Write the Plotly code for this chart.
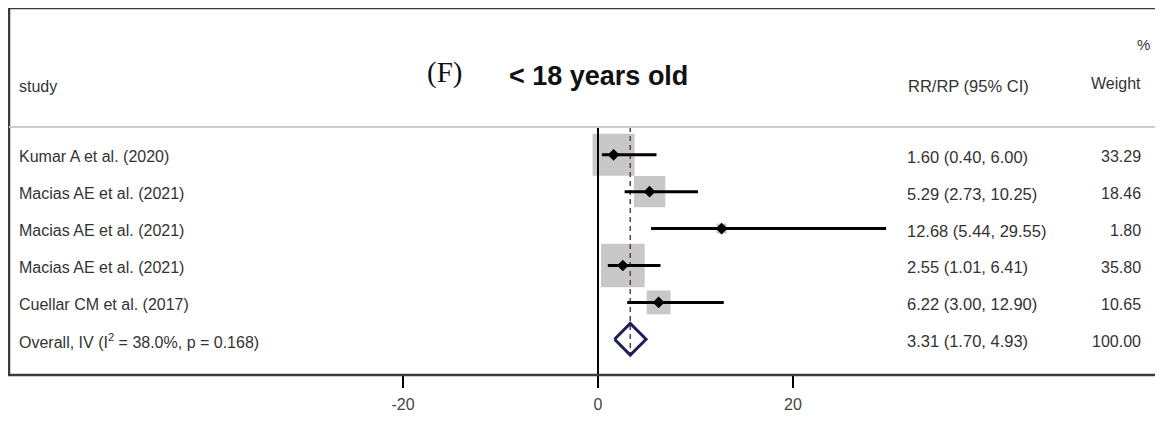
import numpy as np
import plotly.graph_objects as go

# ---------------- data ----------------
studies = ["Kumar A et al. (2020)", "Macias AE et al. (2021)", "Macias AE et al. (2021)",
           "Macias AE et al. (2021)", "Cuellar CM et al. (2017)"]
est = [1.60, 5.29, 12.68, 2.55, 6.22]
ci_lo = [0.40, 2.73, 5.44, 1.01, 3.00]
ci_hi = [6.00, 10.25, 29.55, 6.41, 12.90]
weights = [33.29, 18.46, 1.80, 35.80, 10.65]

overall_label = "Overall, IV (I<sup>2</sup> = 38.0%, p = 0.168)"
overall_est = 3.31
overall_lo = 1.70
overall_hi = 4.93
overall_weight = 100.00

xticks = [-20, 0, 20]

# ---------------- geometry / style ----------------
# the page body has an 8px margin, so the figure is sized to fit inside it
W, H = 1147, 405
ML, MT, MB, MR = 1, 0, 35, 0
PW = W - ML - MR
x_range = [-60.41, 57.13]
y_range = [5.968, -3.978]          # reversed: row 0 at top
header_sep_y = -0.752
TXT = "#333333"
FONT = "Liberation Sans, Arial, sans-serif"

def px_to_paper_x(px):
    # px is a page pixel position
    return (px - 9) / PW

rows = list(range(len(studies)))
overall_row = len(studies)

fig = go.Figure()

# weight boxes
fig.add_trace(go.Scatter(
    x=est, y=rows, mode="markers",
    marker=dict(symbol="square", size=[7.3 * np.sqrt(w) for w in weights],
                color="#b0b0b0", line=dict(width=0)),
    hoverinfo="skip", showlegend=False))

# zero line
fig.add_trace(go.Scatter(x=[0, 0], y=[header_sep_y, y_range[0]], mode="lines",
                         line=dict(color="black", width=2), hoverinfo="skip", showlegend=False))

# overall dashed line
fig.add_trace(go.Scatter(x=[overall_est, overall_est], y=[header_sep_y, overall_row + 0.43],
                         mode="lines", line=dict(color="#6a3a4a", width=1.5, dash="5px,4px"),
                         hoverinfo="skip", showlegend=False))

# CI lines
cx, cy = [], []
for r, a, b in zip(rows, ci_lo, ci_hi):
    cx += [a, b, None]
    cy += [r, r, None]
fig.add_trace(go.Scatter(x=cx, y=cy, mode="lines", line=dict(color="black", width=3),
                         hoverinfo="skip", showlegend=False))

# point estimates
fig.add_trace(go.Scatter(x=est, y=rows, mode="markers",
                         marker=dict(symbol="diamond", size=9, color="black"),
                         hoverinfo="skip", showlegend=False))

# overall diamond
dh = 0.43
fig.add_trace(go.Scatter(
    x=[overall_lo, overall_est, overall_hi, overall_est, overall_lo],
    y=[overall_row, overall_row - dh, overall_row, overall_row + dh, overall_row],
    mode="lines", line=dict(color="#1b1f5c", width=3), hoverinfo="skip", showlegend=False))

ann = []
def add_text(text, px, y, anchor="left", size=16, color=TXT, family=FONT, yshift=-2):
    ann.append(dict(text=text, x=px_to_paper_x(px), xref="paper", y=y, yref="y",
                    xanchor=anchor, yanchor="middle", showarrow=False, yshift=yshift,
                    font=dict(size=size, color=color, family=family)))

# row texts
for r, s, e, a, b, w in zip(rows, studies, est, ci_lo, ci_hi, weights):
    add_text(s, 17, r)
    add_text(f"{e:.2f} ({a:.2f}, {b:.2f})", 905, r, size=16.5)
    add_text(f"{w:.2f}", 1143, r, anchor="right")
add_text(overall_label, 17, overall_row)
add_text(f"{overall_est:.2f} ({overall_lo:.2f}, {overall_hi:.2f})", 905, overall_row, size=16.5)
add_text(f"{overall_weight:.2f}", 1143, overall_row, anchor="right")

# headers
add_text("study", 17, -1.908)
add_text("RR/RP (95% CI)", 906, -1.908, size=16.5)
add_text("Weight", 1143, -1.99, anchor="right")
add_text("%", 1152, -3.037, anchor="right", size=15)
add_text("(F)", 444, -2.24, anchor="center", size=29, color="#111111",
         family="Liberation Serif, Times New Roman, serif", yshift=0)
add_text("<b>&lt; 18 years old</b>", 507, -2.13, anchor="left", size=27, color="#111111", yshift=0)

shapes = [
    dict(type="rect", xref="paper", yref="paper", x0=0, x1=1.01, y0=0, y1=1,
         line=dict(color="#3a3a3a", width=2.5), fillcolor="rgba(0,0,0,0)", layer="above"),
    dict(type="line", xref="paper", yref="y", x0=0, x1=1.01, y0=header_sep_y, y1=header_sep_y,
         line=dict(color="#cccccc", width=2)),
]

fig.update_layout(
    width=W, height=H,
    margin=dict(l=ML, r=MR, t=MT, b=MB, pad=0),
    paper_bgcolor="white", plot_bgcolor="white",
    annotations=ann, shapes=shapes, showlegend=False,
    xaxis=dict(range=x_range, tickvals=xticks, ticktext=[str(t) for t in xticks],
               ticks="outside", ticklen=12, tickwidth=2, tickcolor="black",
               ticklabelstandoff=3,
               showgrid=False, zeroline=False, showline=False,
               tickfont=dict(size=16, color="#444444", family=FONT)),
    yaxis=dict(range=y_range, visible=False, showgrid=False, zeroline=False),
)

fig.write_html("out.html")
